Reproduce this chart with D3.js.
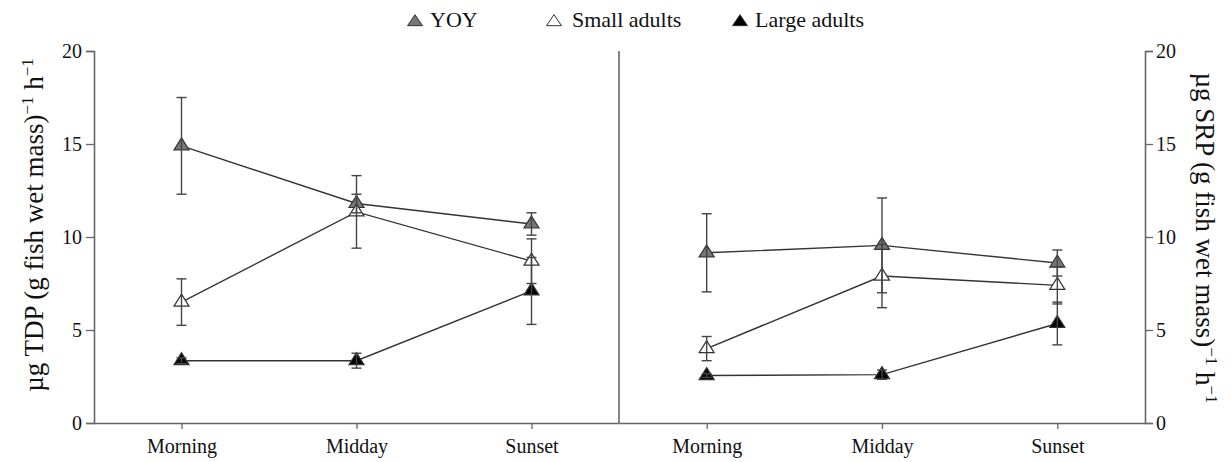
<!DOCTYPE html>
<html>
<head>
<meta charset="utf-8">
<script src="https://cdn.jsdelivr.net/npm/d3@7"></script>
<style>
  body { margin: 0; background: #fff; }
  svg, svg text { font-family: "Liberation Serif", "DejaVu Serif", serif !important; }
  svg text { fill: #111; }
</style>
</head>
<body>
<svg id="chart" width="1231" height="462"></svg>
<script>
// Sampling times (shared by both panels)
const times = ["Morning", "Midday", "Sunset"];
const yTicks = [0, 5, 10, 15, 20];

// Total dissolved phosphorus excretion (left panel), mean and SE
const tdpYOY = [14.9, 11.8, 10.7];
const tdpYOYErr = [2.6, 0.5, 0.6];
const tdpSmall = [6.5, 11.35, 8.7];
const tdpSmallErr = [1.25, 1.95, 1.2];
const tdpLarge = [3.35, 3.35, 7.1];
const tdpLargeErr = [0.15, 0.4, 1.8];

// Soluble reactive phosphorus excretion (right panel), mean and SE
const srpYOY = [9.15, 9.55, 8.6];
const srpYOYErr = [2.1, 2.55, 0.7];
const srpSmall = [4.0, 7.9, 7.4];
const srpSmallErr = [0.65, 1.7, 1.0];
const srpLarge = [2.55, 2.6, 5.35];
const srpLargeErr = [0.1, 0.25, 1.15];

const groups = ["YOY", "Small adults", "Large adults"];
const groupFill = { "YOY": "#777777", "Small adults": "#ffffff", "Large adults": "#000000" };

const serif = "'Liberation Serif', 'DejaVu Serif', serif";
const svg = d3.select("#chart").style("font-family", serif);
const plotLeft = 94, plotMid = 619, plotRight = 1145, plotTop = 51, plotBottom = 423;
const axisColor = "#666";

const y = d3.scaleLinear().domain([0, 20]).range([plotBottom, plotTop]);
const xL = d3.scalePoint().domain(times).range([plotLeft, plotMid]).padding(0.5);
const xR = d3.scalePoint().domain(times).range([plotMid, plotRight]).padding(0.5);

// Triangle marker with centroid at the origin
function tri(w, h) {
  return `M0,${-2 * h / 3}L${w / 2},${h / 3}L${-w / 2},${h / 3}Z`;
}

function styleAxis(g) {
  g.attr("font-family", null).style("font-family", serif);
  g.selectAll("path.domain").attr("stroke", axisColor).attr("stroke-width", 1.6);
  g.selectAll(".tick line").attr("stroke", axisColor).attr("stroke-width", 1.3);
  g.selectAll(".tick text").style("font-family", serif).attr("font-size", 20).attr("fill", "#111");
}

// Axes
const gyL = svg.append("g").attr("transform", `translate(${plotLeft},0)`)
  .call(d3.axisLeft(y).tickValues(yTicks).tickSize(8).tickPadding(4));
styleAxis(gyL);
const gyR = svg.append("g").attr("transform", `translate(${plotRight},0)`)
  .call(d3.axisRight(y).tickValues(yTicks).tickSize(8).tickPadding(3));
styleAxis(gyR);

const gxL = svg.append("g").attr("transform", `translate(0,${plotBottom})`)
  .call(d3.axisBottom(xL).tickSize(6).tickPadding(10).tickSizeOuter(0));
styleAxis(gxL);
const gxR = svg.append("g").attr("transform", `translate(0,${plotBottom})`)
  .call(d3.axisBottom(xR).tickSize(6).tickPadding(10).tickSizeOuter(0));
styleAxis(gxR);

// Panel divider
svg.append("line").attr("x1", plotMid).attr("x2", plotMid).attr("y1", plotTop).attr("y2", plotBottom)
  .attr("stroke", axisColor).attr("stroke-width", 1.6);

function drawPanel(x, series) {
  const g = svg.append("g");
  const line = d3.line().x((d, i) => x(times[i])).y(d => y(d));
  series.forEach(s => {
    g.append("path").datum(s.values).attr("d", line)
      .attr("fill", "none").attr("stroke", "#333").attr("stroke-width", 1.4);
  });
  series.forEach(s => {
    s.values.forEach((v, i) => {
      g.append("path").attr("d", tri(15, 12))
        .attr("transform", `translate(${x(times[i])},${y(v)})`)
        .attr("fill", groupFill[s.name]).attr("stroke", "#333").attr("stroke-width", 1.2);
    });
  });
  series.forEach(s => {
    s.values.forEach((v, i) => {
      const cx = x(times[i]), lo = y(v - s.err[i]), hi = y(v + s.err[i]);
      g.append("line").attr("x1", cx).attr("x2", cx).attr("y1", lo).attr("y2", hi)
        .attr("stroke", "#444").attr("stroke-width", 1.4);
      [lo, hi].forEach(yy => {
        g.append("line").attr("x1", cx - 5).attr("x2", cx + 5).attr("y1", yy).attr("y2", yy)
          .attr("stroke", "#444").attr("stroke-width", 1.4);
      });
    });
  });
}

drawPanel(xL, [
  { name: "YOY", values: tdpYOY, err: tdpYOYErr },
  { name: "Small adults", values: tdpSmall, err: tdpSmallErr },
  { name: "Large adults", values: tdpLarge, err: tdpLargeErr }
]);
drawPanel(xR, [
  { name: "YOY", values: srpYOY, err: srpYOYErr },
  { name: "Small adults", values: srpSmall, err: srpSmallErr },
  { name: "Large adults", values: srpLarge, err: srpLargeErr }
]);

// Legend
const legendX = [415, 554, 740];
const legendGap = [15, 18, 15];
const legend = svg.append("g");
groups.forEach((name, i) => {
  legend.append("path").attr("d", tri(15, 11))
    .attr("transform", `translate(${legendX[i]},${22})`)
    .attr("fill", groupFill[name]).attr("stroke", "#333").attr("stroke-width", 1);
  legend.append("text").attr("x", legendX[i] + legendGap[i]).attr("y", 26.5)
    .style("font-family", serif).attr("font-size", 22).text(name);
});

// Axis titles with superscripts
function axisTitle(tx, ty, rot, chem) {
  const t = svg.append("text")
    .attr("transform", `translate(${tx},${ty}) rotate(${rot})`)
    .style("font-family", serif)
    .attr("text-anchor", "middle").attr("font-size", 27);
  t.append("tspan").text(`\u00b5g ${chem} (g fish wet mass)`);
  t.append("tspan").attr("dy", -10).attr("font-size", 17).text("\u22121");
  t.append("tspan").attr("dy", 10).text(" h");
  t.append("tspan").attr("dy", -10).attr("font-size", 17).text("\u22121");
}
axisTitle(43, 225, -90, "TDP");
axisTitle(1196, 238, 90, "SRP");
</script>
</body>
</html>
